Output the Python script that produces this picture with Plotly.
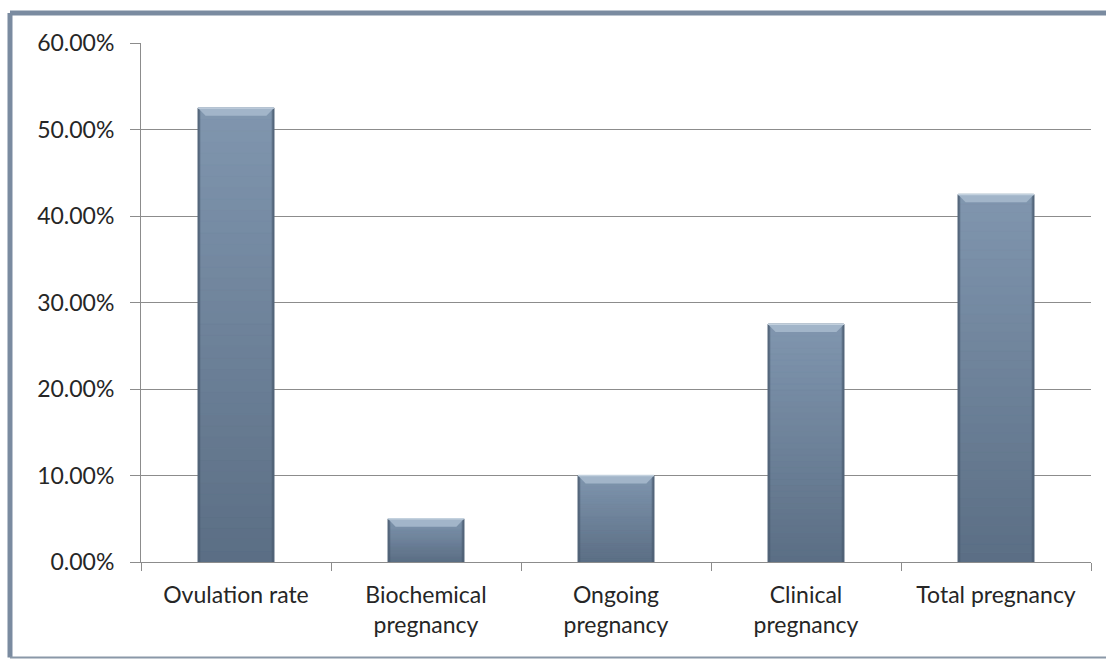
import plotly.graph_objects as go

categories = ["Ovulation rate", "Biochemical<br>pregnancy", "Ongoing<br>pregnancy",
              "Clinical<br>pregnancy", "Total pregnancy"]
values = [0.525, 0.05, 0.10, 0.275, 0.425]
y_tickvals = [0.0, 0.1, 0.2, 0.3, 0.4, 0.5, 0.6]

BAR_W = 0.4
TOP_COLOR = (0x80, 0x96, 0xaf)
BOT_COLOR = (0x5b, 0x6e, 0x84)

def mix(a, b, t):
    return "rgb(%d,%d,%d)" % tuple(round(a[k] + (b[k] - a[k]) * t) for k in range(3))

fig = go.Figure(go.Bar(
    x=categories, y=values, width=BAR_W,
    marker=dict(color="#6f849c", line=dict(color="#56687d", width=1)),
    hoverinfo="x+y",
))

shapes = []
N = 40
hw = BAR_W / 2
for i, v in enumerate(values):
    # vertical gradient bands
    for k in range(N):
        y0 = v * k / N
        y1 = v * (k + 1) / N
        t = 1 - (k + 0.5) / N
        c = mix(TOP_COLOR, BOT_COLOR, t)
        shapes.append(dict(type="rect", xref="x", yref="y", x0=i - hw + 0.006, x1=i + hw - 0.006,
                           y0=y0, y1=y1, fillcolor=c,
                           line=dict(width=0.6, color=c), layer="above"))
    # darker side edges
    for sx0, sx1 in ((i - hw, i - hw + 0.012), (i + hw - 0.012, i + hw)):
        shapes.append(dict(type="rect", xref="x", yref="y", x0=sx0, x1=sx1, y0=0, y1=v,
                           fillcolor="rgba(70,85,105,0.55)", line=dict(width=0), layer="above"))
    # top bevel
    dx, dy = 0.04, 0.0092
    path = "M %f,%f L %f,%f L %f,%f L %f,%f Z" % (i - hw, v, i + hw, v, i + hw - dx, v - dy, i - hw + dx, v - dy)
    shapes.append(dict(type="path", xref="x", yref="y", path=path, fillcolor="#a2b5c9",
                       line=dict(width=0), layer="above"))
    shapes.append(dict(type="line", xref="x", yref="y", x0=i - hw, x1=i + hw, y0=v, y1=v,
                       line=dict(color="#c3d1de", width=1.5), layer="above"))

# outer frame
frame = "#7a8ba0"
shapes += [
    dict(type="line", xref="paper", yref="paper", x0=-0.1379, x1=1.03, y0=1.0578, y1=1.0578,
         line=dict(color=frame, width=5)),
    dict(type="line", xref="paper", yref="paper", x0=-0.1379, x1=-0.1379, y0=1.0578, y1=-0.184,
         line=dict(color=frame, width=5)),
    dict(type="line", xref="paper", yref="paper", x0=-0.1379, x1=1.03, y0=-0.184, y1=-0.184,
         line=dict(color="#8a98a8", width=2)),
]

fig.update_layout(
    width=1106, height=660,
    margin=dict(l=141, r=15, t=43, b=98),
    paper_bgcolor="white", plot_bgcolor="white",
    font=dict(family="Lato, Open Sans, sans-serif", size=23, color="#262626"),
    showlegend=False,
    bargap=0.6,
    shapes=shapes,
    xaxis=dict(
        type="category", showline=True, linecolor="#8c8c8c", linewidth=1,
        ticks="outside", tickson="boundaries", ticklen=8, tickcolor="#8c8c8c",
        showgrid=False, tickfont=dict(size=23, color="#262626"),
        ticklabelstandoff=12,
    ),
    yaxis=dict(
        range=[0, 0.6], tickvals=y_tickvals, tickformat=".2%",
        showgrid=True, gridcolor="#8c8c8c", gridwidth=1,
        showline=True, linecolor="#8c8c8c", zeroline=False,
        ticks="outside", ticklen=10, tickcolor="#8c8c8c",
        ticklabelstandoff=11, tickfont=dict(size=23, color="#262626"),
    ),
)

fig.write_html("out.html")
